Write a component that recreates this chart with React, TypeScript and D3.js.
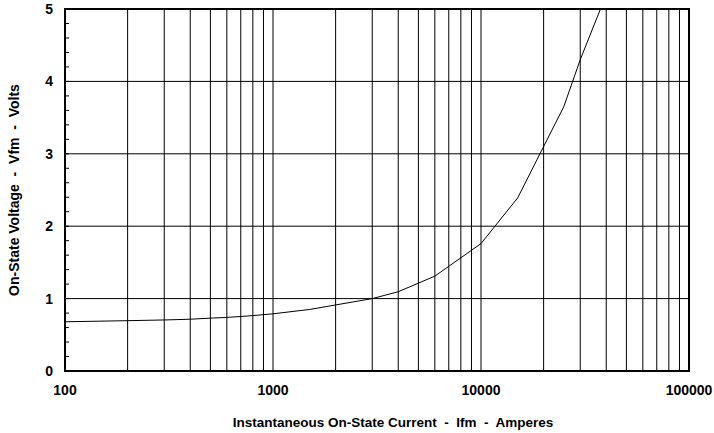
import * as d3 from 'd3';

const W = 714;
const H = 433;
const MARGIN = { TOP: 9, RIGHT: 25, BOTTOM: 62, LEFT: 65 };

// forward characteristic
const currentAmps = [100, 200, 300, 400, 500, 600, 800, 1000, 1500, 3000, 4000, 6000, 10000, 15000, 25000, 30000, 40000];
const voltageVfm = [0.68, 0.695, 0.705, 0.715, 0.73, 0.74, 0.765, 0.79, 0.85, 1.0, 1.095, 1.31, 1.76, 2.39, 3.65, 4.3, 5.2];

const xMajorTicks = [100, 1000, 10000, 100000];
const yMajorTicks = [0, 1, 2, 3, 4, 5];
const yMinorTicks = d3.range(0, 5.01, 0.2);

const xGrid: number[] = [];
[100, 1000, 10000].forEach(decade => {
  for (let m = 1; m <= 9; m++) xGrid.push(decade * m);
});

const FONT = '"Liberation Sans", Arial, sans-serif';

export default function App() {
  const x0 = MARGIN.LEFT;
  const x1 = W - MARGIN.RIGHT;
  const y0 = MARGIN.TOP;
  const y1 = H - MARGIN.BOTTOM;

  const xScale = d3.scaleLog().domain([100, 100000]).range([x0, x1]);
  const yScale = d3.scaleLinear().domain([0, 5]).range([y1, y0]);

  const line = d3.line<number>()
    .x((_, i) => xScale(currentAmps[i]))
    .y(d => yScale(d));

  return (
    <div style={{ position: 'fixed', left: 0, top: 0 }}>
      <svg width={W} height={H} style={{ display: 'block', background: '#fff' }}>
        <defs>
          <clipPath id="plot-clip">
            <rect x={x0} y={y0} width={x1 - x0} height={y1 - y0} />
          </clipPath>
        </defs>

        {/* vertical grid */}
        {xGrid.map(v => (
          <line key={'vx' + v} x1={xScale(v)} x2={xScale(v)} y1={y0} y2={y1} stroke="#000" strokeWidth={1} />
        ))}
        {/* horizontal grid */}
        {yMajorTicks.map(v => (
          <line key={'hy' + v} x1={x0} x2={x1} y1={yScale(v)} y2={yScale(v)} stroke="#000" strokeWidth={1} />
        ))}
        {/* minor ticks on the y axis, inside */}
        {yMinorTicks.map(v => (
          <line key={'my' + v} x1={x0} x2={x0 + 4} y1={yScale(v)} y2={yScale(v)} stroke="#000" strokeWidth={1} />
        ))}

        <path d={line(voltageVfm) ?? ''} fill="none" stroke="#000" strokeWidth={1} clipPath="url(#plot-clip)" />

        <rect x={x0} y={y0} width={x1 - x0} height={y1 - y0} fill="none" stroke="#000" strokeWidth={2} />

        {yMajorTicks.map(v => (
          <text key={'ly' + v} x={x0 - 12} y={yScale(v)} dy="0.35em" textAnchor="end"
            fontFamily={FONT} fontWeight="bold" fontSize={14}>{v}</text>
        ))}
        {xMajorTicks.map(v => (
          <text key={'lx' + v} x={xScale(v)} y={y1 + 24} textAnchor="middle"
            fontFamily={FONT} fontWeight="bold" fontSize={14}>{v}</text>
        ))}

        <text x={393} y={427} textAnchor="middle" fontFamily={FONT} fontWeight="bold" fontSize={13.5}
          style={{ whiteSpace: 'pre' }}>{'Instantaneous On-State Current  -  Ifm  -  Amperes'}</text>
        <text transform={`translate(19, ${(y0 + y1) / 2}) rotate(-90)`} textAnchor="middle"
          fontFamily={FONT} fontWeight="bold" fontSize={14}
          style={{ whiteSpace: 'pre' }}>{'On-State Voltage  -  Vfm  -  Volts'}</text>
      </svg>
    </div>
  );
}
